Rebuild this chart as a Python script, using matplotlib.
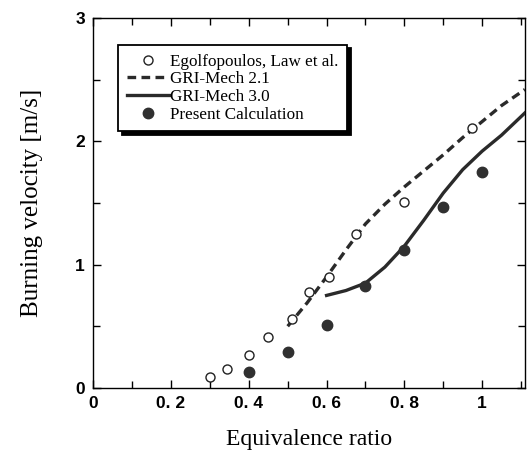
import matplotlib
matplotlib.use('Agg')
import matplotlib.pyplot as plt
from matplotlib.ticker import MultipleLocator, FixedLocator, FixedFormatter

# measured burning velocities
exp_phi = [0.30, 0.345, 0.40, 0.45, 0.51, 0.555, 0.605, 0.675, 0.80, 0.975]
exp_su = [0.09, 0.15, 0.27, 0.41, 0.56, 0.78, 0.90, 1.25, 1.51, 2.11]

# GRI-Mech 2.1 curve
gri21_phi = [0.50, 0.55, 0.60, 0.65, 0.70, 0.75, 0.80, 0.85, 0.90, 0.95, 1.00, 1.05, 1.11]
gri21_su = [0.50, 0.69, 0.90, 1.12, 1.33, 1.49, 1.63, 1.76, 1.89, 2.03, 2.16, 2.29, 2.42]

# GRI-Mech 3.0 curve
gri30_phi = [0.60, 0.65, 0.70, 0.75, 0.80, 0.85, 0.90, 0.95, 1.00, 1.05, 1.11]
gri30_su = [0.75, 0.79, 0.85, 0.98, 1.15, 1.36, 1.58, 1.77, 1.92, 2.05, 2.23]

# present calculation
calc_phi = [0.4, 0.5, 0.6, 0.7, 0.8, 0.9, 1.0]
calc_su = [0.13, 0.29, 0.51, 0.83, 1.12, 1.47, 1.75]

xtick_vals = [0, 0.2, 0.4, 0.6, 0.8, 1.0]
xtick_labels = ['0', '0. 2', '0. 4', '0. 6', '0. 8', '1']
ytick_vals = [0, 1, 2, 3]
ytick_labels = ['0', '1', '2', '3']

serif = ['Liberation Serif', 'DejaVu Serif']
tickfont = ['Liberation Sans Narrow', 'Liberation Sans', 'DejaVu Sans']

fig = plt.figure(figsize=(5.27, 4.5), dpi=100)
ax = fig.add_axes([0.177, 0.138, 0.819, 0.822])

ax.plot(exp_phi, exp_su, 'o', ms=6.5, mfc='white', mec='#222222', mew=1.0,
        label='Egolfopoulos, Law et al.', zorder=4)
ax.plot(gri21_phi, gri21_su, color='#2a2a2a', lw=2.4, dashes=[2.6, 1.6],
        label='GRI-Mech 2.1', zorder=3)
ax.plot(gri30_phi, gri30_su, color='#2a2a2a', lw=2.4, label='GRI-Mech 3.0', zorder=3)
ax.plot(calc_phi, calc_su, 'o', ms=7.5, mfc='#303030', mec='#303030',
        label='Present Calculation', zorder=5)

ax.set_xlim(0, 1.11)
ax.set_ylim(0, 3)
ax.xaxis.set_major_locator(FixedLocator(xtick_vals))
ax.xaxis.set_major_formatter(FixedFormatter(xtick_labels))
ax.xaxis.set_minor_locator(MultipleLocator(0.1))
ax.yaxis.set_major_locator(FixedLocator(ytick_vals))
ax.yaxis.set_major_formatter(FixedFormatter(ytick_labels))
ax.yaxis.set_minor_locator(MultipleLocator(0.5))
ax.tick_params(which='both', direction='in', top=True, right=True, width=1.0)
ax.tick_params(which='major', length=6, pad=6)
ax.tick_params(which='minor', length=5)
for lab in ax.get_xticklabels() + ax.get_yticklabels():
    lab.set_family(tickfont)
    lab.set_fontweight('bold')
    lab.set_fontsize(12.5)
for s in ax.spines.values():
    s.set_linewidth(1.0)

ax.set_xlabel('Equivalence ratio', family=serif, fontsize=17, labelpad=13)
ax.set_ylabel('Burning velocity [m/s]', family=serif, fontsize=18, labelpad=23)

leg = ax.legend(loc='upper left', bbox_to_anchor=(0.058, 0.927), borderaxespad=0,
                prop={'family': serif, 'size': 12.3}, handlelength=2.45,
                handletextpad=0.1, labelspacing=0.1, borderpad=0.5,
                fancybox=False, framealpha=1, edgecolor='black',
                shadow={'color': 'black', 'alpha': 1, 'ox': 2.5, 'oy': -2.5})
leg.get_frame().set_linewidth(1.3)

fig.savefig('out.png', dpi=100)
